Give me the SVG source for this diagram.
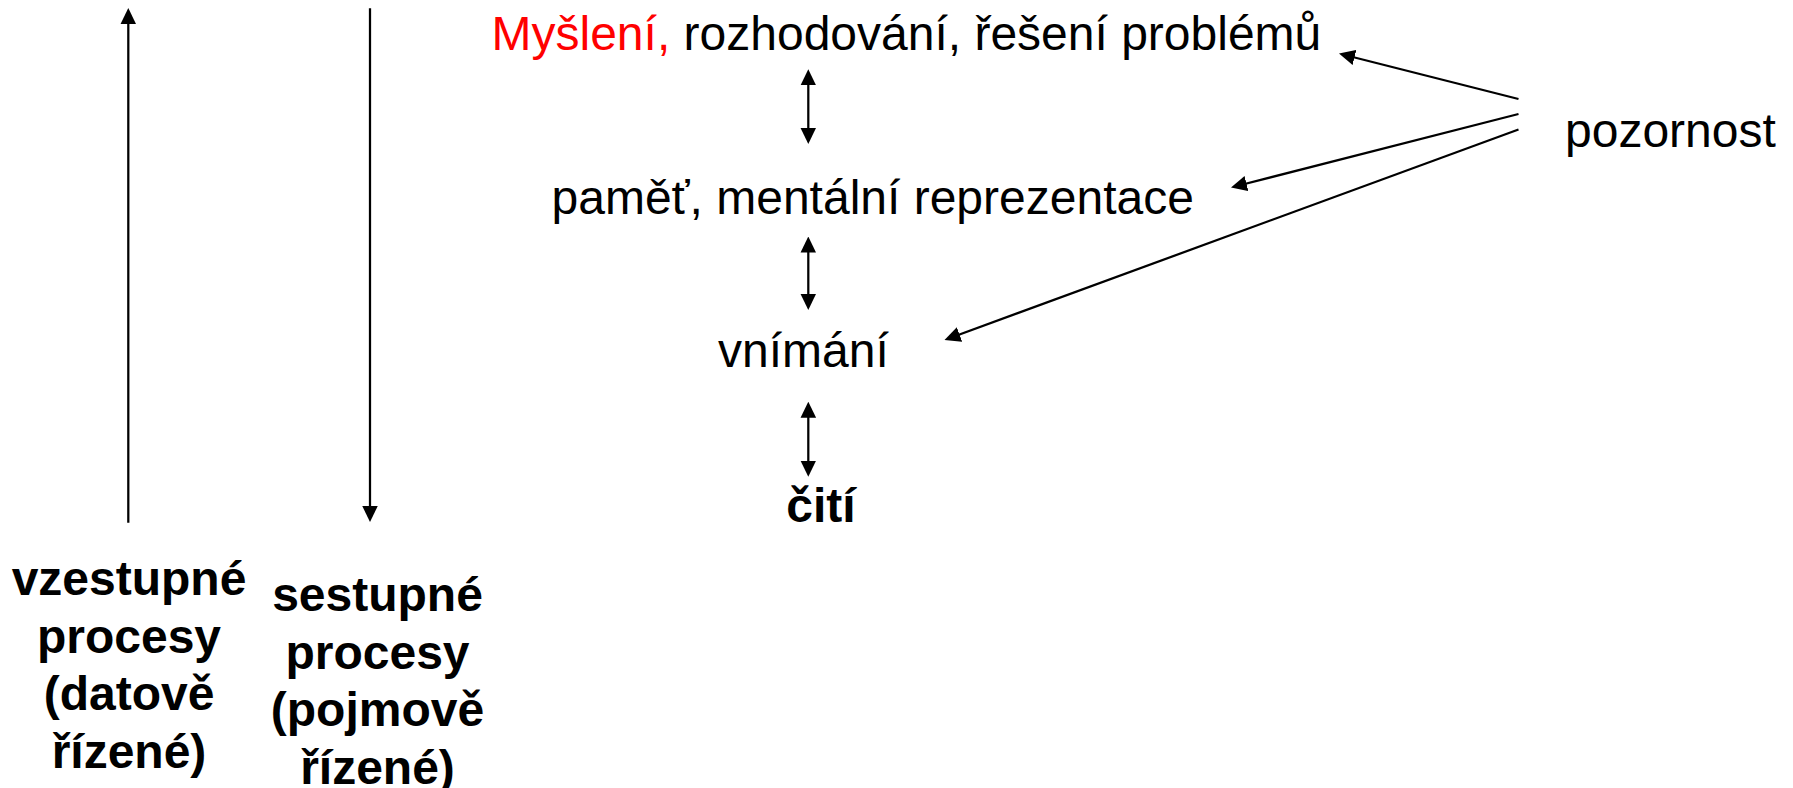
<svg xmlns="http://www.w3.org/2000/svg" width="1793" height="788" viewBox="0 0 1793 788">
<style>
.t{font-family:"Liberation Sans",Arial,sans-serif;font-size:48px;fill:#000}
.b{font-weight:bold;text-anchor:middle}
.c{stroke:#000;stroke-width:2.25;fill:none}
</style>
<defs>
<marker id="ah" markerUnits="userSpaceOnUse" markerWidth="16" markerHeight="16" refX="8" refY="7.75" orient="auto-start-reverse" viewBox="0 0 16 15.5">
<path d="M0,0 L16,7.75 L0,15.5 z" fill="#000"/>
</marker>
</defs>
<rect width="1793" height="788" fill="#fff"/>
<g id="connectors">
<line class="c" x1="128.3" y1="522.7" x2="128.3" y2="16" marker-end="url(#ah)"/>
<line class="c" x1="370" y1="8.3" x2="370" y2="514" marker-end="url(#ah)"/>
<line class="c" x1="808.3" y1="77.3" x2="808.3" y2="136" marker-start="url(#ah)" marker-end="url(#ah)"/>
<line class="c" x1="808.3" y1="244.5" x2="808.3" y2="302" marker-start="url(#ah)" marker-end="url(#ah)"/>
<line class="c" x1="808.3" y1="409.7" x2="808.3" y2="468.7" marker-start="url(#ah)" marker-end="url(#ah)"/>
<line class="c" x1="1518.5" y1="99" x2="1346.75" y2="55.47" marker-end="url(#ah)"/>
<line class="c" x1="1518.5" y1="114" x2="1238.75" y2="185.52" marker-end="url(#ah)"/>
<line class="c" x1="1518.5" y1="129.5" x2="952.01" y2="337.25" marker-end="url(#ah)"/>
</g>
<g id="n-mysleni"><text class="t" x="491.5" y="50"><tspan fill="#ff0000">Myšlení,</tspan> rozhodování, řešení problémů</text></g>
<g id="n-pamet"><text class="t" x="551.5" y="213.5">paměť, mentální reprezentace</text></g>
<g id="n-vnimani"><text class="t" x="718" y="366.7">vnímání</text></g>
<g id="n-citi"><text class="t b" x="821" y="521.7">čití</text></g>
<g id="n-pozornost"><text class="t" x="1565" y="147">pozornost</text></g>
<g id="n-vzestupne"><text class="t b" x="129" y="595"><tspan x="129">vzestupné</tspan><tspan x="129" dy="57.6">procesy</tspan><tspan x="129" dy="57.6">(datově</tspan><tspan x="129" dy="57.6">řízené)</tspan></text></g>
<g id="n-sestupne"><text class="t b" x="377.5" y="611"><tspan x="377.5">sestupné</tspan><tspan x="377.5" dy="57.6">procesy</tspan><tspan x="377.5" dy="57.6">(pojmově</tspan><tspan x="377.5" dy="57.6">řízené)</tspan></text></g>
</svg>
